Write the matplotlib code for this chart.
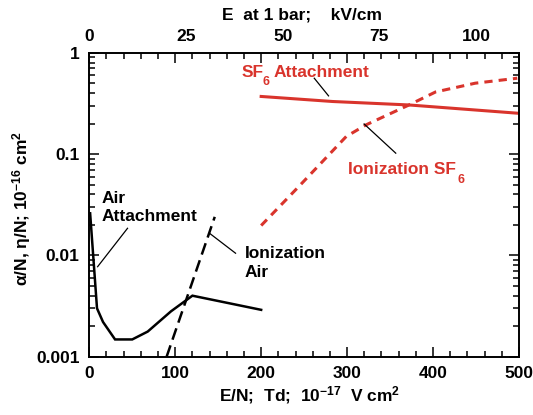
import numpy as np
import matplotlib
matplotlib.use("Agg")
import matplotlib.pyplot as plt

plt.rcParams['font.family'] = ['Liberation Sans', 'DejaVu Sans']
plt.rcParams['font.weight'] = 'bold'
plt.rcParams['mathtext.fontset'] = 'custom'
plt.rcParams['mathtext.rm'] = 'Liberation Sans:bold'
plt.rcParams['mathtext.it'] = 'Liberation Sans:bold'
plt.rcParams['mathtext.bf'] = 'Liberation Sans:bold'

RED = '#d9342c'

# air (black)
air_att_td = [1, 9, 16, 30, 50, 68, 95, 120, 200]
air_att = [0.026, 0.0030, 0.0022, 0.00148, 0.00148, 0.00177, 0.0028, 0.0040, 0.0029]
air_ion_td = [90, 146]
air_ion = [0.001, 0.024]

# SF6 (red)
sf6_att_td = [200, 283, 372, 498]
sf6_att = [0.37, 0.33, 0.305, 0.253]
sf6_ion_td = [200, 244, 299, 322, 372, 403, 449, 498]
sf6_ion = [0.0197, 0.048, 0.149, 0.194, 0.305, 0.41, 0.50, 0.56]

x_ticks = [0, 100, 200, 300, 400, 500]
top_ticks = [0, 25, 50, 75, 100]
kv_per_td = 0.2222   # kV/cm at 1 bar per Td, as drawn

fig = plt.figure(figsize=(5.33, 4.15), dpi=100)
ax = fig.add_axes([0.1675, 0.1405, 0.8062, 0.7325])

ax.plot(air_att_td, air_att, color='black', lw=1.8, solid_joinstyle='miter')
ax.plot(air_ion_td, air_ion, color='black', lw=1.8, linestyle=(0, (4.8, 2.4)))
ax.plot(sf6_att_td, sf6_att, color=RED, lw=2.2)
ax.plot(sf6_ion_td, sf6_ion, color=RED, lw=2.2, linestyle=(0, (2.7, 2.0)))

ax.set_yscale('log')
ax.set_xlim(0, 500)
ax.set_ylim(0.001, 1)
ax.set_xticks(x_ticks)
ax.set_xticks(np.arange(0, 501, 20), minor=True)
ax.set_yticks([0.001, 0.01, 0.1, 1])
ax.set_yticklabels(['0.001', '0.01', '0.1', '1'])
ax.tick_params(which='both', direction='in', top=True, right=True, width=1.1, labelsize=12.5)
ax.tick_params(which='major', length=7, pad=7)
ax.tick_params(which='minor', length=4)
for s in ax.spines.values():
    s.set_linewidth(1.4)

secax = ax.secondary_xaxis('top', functions=(lambda x: x * kv_per_td, lambda x: x / kv_per_td))
secax.set_xticks(top_ticks)
secax.tick_params(length=0, labelsize=12.5, pad=6)
secax.xaxis.set_minor_locator(matplotlib.ticker.NullLocator())
secax.spines['top'].set_visible(False)

fig.text(22 / 533, 1 - 208 / 415, r'α/N, η/N; 10$^{-16}$ cm$^{2}$', rotation=90,
         ha='center', va='center', fontsize=12.5)
fig.text(310 / 533, 1 - 395 / 415, r'E/N;  Td;  10$^{-17}$  V cm$^{2}$',
         ha='center', va='center', fontsize=12.5)
fig.text(302 / 533, 1 - 15 / 415, 'E  at 1 bar;    kV/cm',
         ha='center', va='center', fontsize=12.5)

# labels and leader lines
ax.text(14.7, 0.0329, 'Air', fontsize=12.5, va='baseline')
ax.text(14.7, 0.0219, 'Attachment', fontsize=12.5, va='baseline')
ax.plot([44.5, 9.7], [0.0185, 0.00773], color='black', lw=0.9)

ax.text(181, 0.00935, 'Ionization', fontsize=12.5, va='baseline')
ax.text(181, 0.00616, 'Air', fontsize=12.5, va='baseline')
ax.plot([140, 170.2], [0.0165, 0.0105], color='black', lw=0.9)

ax.text(176.8, 0.581, 'SF', fontsize=12.5, va='baseline', color=RED)
ax.text(201.5, 0.481, '6', fontsize=9, va='baseline', color=RED)
ax.text(214.3, 0.581, 'Attachment', fontsize=12.5, va='baseline', color=RED)
ax.plot([261.8, 278.4], [0.56, 0.375], color='black', lw=0.9)

ax.text(301.6, 0.0633, 'Ionization SF', fontsize=12.5, va='baseline', color=RED)
ax.text(428, 0.0523, '6', fontsize=9, va='baseline', color=RED)
ax.plot([319.8, 356.6], [0.198, 0.102], color='black', lw=0.9)

fig.savefig('out.png', dpi=100)
